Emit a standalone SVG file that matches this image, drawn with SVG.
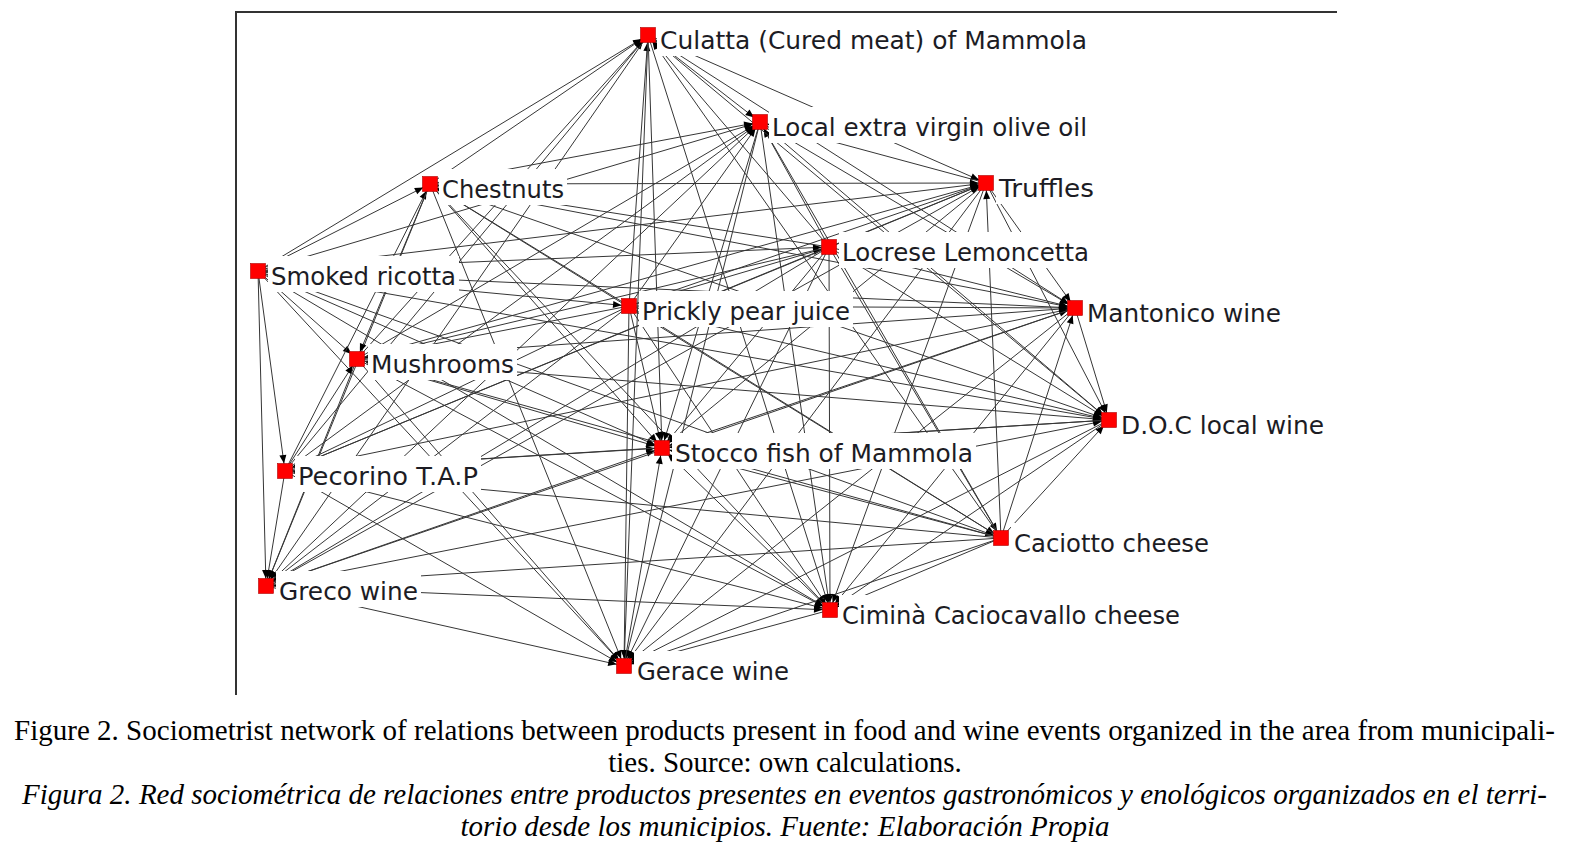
<svg xmlns="http://www.w3.org/2000/svg" width="1575" height="861" viewBox="0 0 1575 861">
<style>
.edges line{stroke:#363636;stroke-width:1;marker-end:url(#ar)}
.box{fill:#fff}
.sq{fill:#ff0000;stroke:#b00000;stroke-width:0.6}
.lbl{font-family:"DejaVu Sans","Liberation Sans",sans-serif;font-size:25px;fill:#1c1c24}
.cap{font-family:"Liberation Serif","Times New Roman",serif;font-size:29px;fill:#000}
.mid{text-anchor:middle}
.it{font-style:italic}
.frame{stroke:#333;stroke-width:2;fill:none}
</style>
<defs>
<marker id="ar" markerUnits="userSpaceOnUse" markerWidth="20" markerHeight="8" refX="16" refY="3.5" orient="auto" overflow="visible">
<path d="M0,0 L8.5,3.5 L0,7 z" fill="#000"/>
</marker>
</defs>
<rect width="1575" height="861" fill="#fff"/>
<path class="frame" d="M236,695 L236,12 L1337,12"/>
<g id="edges" class="edges">
<line x1="258" y1="271" x2="662" y2="448"/>
<line x1="258" y1="271" x2="624" y2="666"/>
<line x1="258" y1="271" x2="830" y2="610"/>
<line x1="258" y1="271" x2="1109" y2="420"/>
<line x1="258" y1="271" x2="1075" y2="308"/>
<line x1="258" y1="271" x2="760" y2="122"/>
<line x1="258" y1="271" x2="986" y2="183"/>
<line x1="258" y1="271" x2="266" y2="586"/>
<line x1="258" y1="271" x2="648" y2="35"/>
<line x1="258" y1="271" x2="357" y2="359"/>
<line x1="258" y1="271" x2="430" y2="184"/>
<line x1="258" y1="271" x2="285" y2="471"/>
<line x1="258" y1="271" x2="1001" y2="538"/>
<line x1="258" y1="271" x2="829" y2="247"/>
<line x1="258" y1="271" x2="629" y2="306"/>
<line x1="629" y1="306" x2="662" y2="448"/>
<line x1="629" y1="306" x2="624" y2="666"/>
<line x1="629" y1="306" x2="830" y2="610"/>
<line x1="629" y1="306" x2="1109" y2="420"/>
<line x1="629" y1="306" x2="1075" y2="308"/>
<line x1="629" y1="306" x2="760" y2="122"/>
<line x1="629" y1="306" x2="986" y2="183"/>
<line x1="629" y1="306" x2="266" y2="586"/>
<line x1="629" y1="306" x2="648" y2="35"/>
<line x1="629" y1="306" x2="357" y2="359"/>
<line x1="629" y1="306" x2="430" y2="184"/>
<line x1="629" y1="306" x2="285" y2="471"/>
<line x1="629" y1="306" x2="1001" y2="538"/>
<line x1="629" y1="306" x2="829" y2="247"/>
<line x1="829" y1="247" x2="662" y2="448"/>
<line x1="829" y1="247" x2="624" y2="666"/>
<line x1="829" y1="247" x2="830" y2="610"/>
<line x1="829" y1="247" x2="1109" y2="420"/>
<line x1="829" y1="247" x2="1075" y2="308"/>
<line x1="829" y1="247" x2="760" y2="122"/>
<line x1="829" y1="247" x2="986" y2="183"/>
<line x1="829" y1="247" x2="266" y2="586"/>
<line x1="829" y1="247" x2="648" y2="35"/>
<line x1="829" y1="247" x2="357" y2="359"/>
<line x1="829" y1="247" x2="430" y2="184"/>
<line x1="829" y1="247" x2="285" y2="471"/>
<line x1="829" y1="247" x2="1001" y2="538"/>
<line x1="1001" y1="538" x2="662" y2="448"/>
<line x1="1001" y1="538" x2="624" y2="666"/>
<line x1="1001" y1="538" x2="830" y2="610"/>
<line x1="1001" y1="538" x2="1109" y2="420"/>
<line x1="1001" y1="538" x2="1075" y2="308"/>
<line x1="1001" y1="538" x2="760" y2="122"/>
<line x1="1001" y1="538" x2="986" y2="183"/>
<line x1="1001" y1="538" x2="266" y2="586"/>
<line x1="1001" y1="538" x2="648" y2="35"/>
<line x1="1001" y1="538" x2="357" y2="359"/>
<line x1="1001" y1="538" x2="430" y2="184"/>
<line x1="1001" y1="538" x2="285" y2="471"/>
<line x1="285" y1="471" x2="662" y2="448"/>
<line x1="285" y1="471" x2="624" y2="666"/>
<line x1="285" y1="471" x2="830" y2="610"/>
<line x1="285" y1="471" x2="1109" y2="420"/>
<line x1="285" y1="471" x2="1075" y2="308"/>
<line x1="285" y1="471" x2="760" y2="122"/>
<line x1="285" y1="471" x2="986" y2="183"/>
<line x1="285" y1="471" x2="266" y2="586"/>
<line x1="285" y1="471" x2="648" y2="35"/>
<line x1="285" y1="471" x2="357" y2="359"/>
<line x1="285" y1="471" x2="430" y2="184"/>
<line x1="430" y1="184" x2="662" y2="448"/>
<line x1="430" y1="184" x2="624" y2="666"/>
<line x1="430" y1="184" x2="830" y2="610"/>
<line x1="430" y1="184" x2="1109" y2="420"/>
<line x1="430" y1="184" x2="1075" y2="308"/>
<line x1="430" y1="184" x2="760" y2="122"/>
<line x1="430" y1="184" x2="986" y2="183"/>
<line x1="430" y1="184" x2="266" y2="586"/>
<line x1="430" y1="184" x2="648" y2="35"/>
<line x1="430" y1="184" x2="357" y2="359"/>
<line x1="357" y1="359" x2="662" y2="448"/>
<line x1="357" y1="359" x2="624" y2="666"/>
<line x1="357" y1="359" x2="830" y2="610"/>
<line x1="357" y1="359" x2="1109" y2="420"/>
<line x1="357" y1="359" x2="1075" y2="308"/>
<line x1="357" y1="359" x2="760" y2="122"/>
<line x1="357" y1="359" x2="986" y2="183"/>
<line x1="357" y1="359" x2="266" y2="586"/>
<line x1="357" y1="359" x2="648" y2="35"/>
<line x1="648" y1="35" x2="662" y2="448"/>
<line x1="648" y1="35" x2="624" y2="666"/>
<line x1="648" y1="35" x2="830" y2="610"/>
<line x1="648" y1="35" x2="1109" y2="420"/>
<line x1="648" y1="35" x2="1075" y2="308"/>
<line x1="648" y1="35" x2="760" y2="122"/>
<line x1="648" y1="35" x2="986" y2="183"/>
<line x1="648" y1="35" x2="266" y2="586"/>
<line x1="266" y1="586" x2="662" y2="448"/>
<line x1="266" y1="586" x2="624" y2="666"/>
<line x1="266" y1="586" x2="830" y2="610"/>
<line x1="266" y1="586" x2="1109" y2="420"/>
<line x1="266" y1="586" x2="1075" y2="308"/>
<line x1="266" y1="586" x2="760" y2="122"/>
<line x1="266" y1="586" x2="986" y2="183"/>
<line x1="986" y1="183" x2="662" y2="448"/>
<line x1="986" y1="183" x2="624" y2="666"/>
<line x1="986" y1="183" x2="830" y2="610"/>
<line x1="986" y1="183" x2="1109" y2="420"/>
<line x1="986" y1="183" x2="1075" y2="308"/>
<line x1="986" y1="183" x2="760" y2="122"/>
<line x1="760" y1="122" x2="662" y2="448"/>
<line x1="760" y1="122" x2="624" y2="666"/>
<line x1="760" y1="122" x2="830" y2="610"/>
<line x1="760" y1="122" x2="1109" y2="420"/>
<line x1="760" y1="122" x2="1075" y2="308"/>
<line x1="1075" y1="308" x2="662" y2="448"/>
<line x1="1075" y1="308" x2="624" y2="666"/>
<line x1="1075" y1="308" x2="830" y2="610"/>
<line x1="1075" y1="308" x2="1109" y2="420"/>
<line x1="1109" y1="420" x2="662" y2="448"/>
<line x1="1109" y1="420" x2="624" y2="666"/>
<line x1="1109" y1="420" x2="830" y2="610"/>
<line x1="830" y1="610" x2="662" y2="448"/>
<line x1="830" y1="610" x2="624" y2="666"/>
<line x1="624" y1="666" x2="662" y2="448"/>
</g>
<g id="n-culatta"><rect class="box" x="657" y="20" width="434" height="36"/><rect class="sq" x="640.5" y="27.5" width="15" height="15"/><text class="lbl" x="660" y="49" textLength="427" lengthAdjust="spacingAndGlyphs">Culatta (Cured meat) of Mammola</text></g>
<g id="n-olive"><rect class="box" x="769" y="107" width="321" height="36"/><rect class="sq" x="752.5" y="114.5" width="15" height="15"/><text class="lbl" x="772" y="136" textLength="315" lengthAdjust="spacingAndGlyphs">Local extra virgin olive oil</text></g>
<g id="n-chestnuts"><rect class="box" x="439" y="169" width="128" height="36"/><rect class="sq" x="422.5" y="176.5" width="15" height="15"/><text class="lbl" x="442" y="198" textLength="122" lengthAdjust="spacingAndGlyphs">Chestnuts</text></g>
<g id="n-truffles"><rect class="box" x="996" y="168" width="101" height="36"/><rect class="sq" x="978.5" y="175.5" width="15" height="15"/><text class="lbl" x="999" y="197" textLength="95" lengthAdjust="spacingAndGlyphs">Truffles</text></g>
<g id="n-locrese"><rect class="box" x="839" y="232" width="253" height="36"/><rect class="sq" x="821.5" y="239.5" width="15" height="15"/><text class="lbl" x="842" y="261" textLength="247" lengthAdjust="spacingAndGlyphs">Locrese Lemoncetta</text></g>
<g id="n-ricotta"><rect class="box" x="268" y="256" width="191" height="36"/><rect class="sq" x="250.5" y="263.5" width="15" height="15"/><text class="lbl" x="271" y="285" textLength="185" lengthAdjust="spacingAndGlyphs">Smoked ricotta</text></g>
<g id="n-prickly"><rect class="box" x="639" y="291" width="214" height="36"/><rect class="sq" x="621.5" y="298.5" width="15" height="15"/><text class="lbl" x="642" y="320" textLength="208" lengthAdjust="spacingAndGlyphs">Prickly pear juice</text></g>
<g id="n-mantonico"><rect class="box" x="1084" y="293" width="200" height="36"/><rect class="sq" x="1067.5" y="300.5" width="15" height="15"/><text class="lbl" x="1087" y="322" textLength="194" lengthAdjust="spacingAndGlyphs">Mantonico wine</text></g>
<g id="n-mushrooms"><rect class="box" x="368" y="344" width="149" height="36"/><rect class="sq" x="349.5" y="351.5" width="15" height="15"/><text class="lbl" x="371" y="373" textLength="143" lengthAdjust="spacingAndGlyphs">Mushrooms</text></g>
<g id="n-doc"><rect class="box" x="1118" y="405" width="209" height="36"/><rect class="sq" x="1101.5" y="412.5" width="15" height="15"/><text class="lbl" x="1121" y="434" textLength="203" lengthAdjust="spacingAndGlyphs">D.O.C local wine</text></g>
<g id="n-stocco"><rect class="box" x="672" y="433" width="304" height="36"/><rect class="sq" x="654.5" y="440.5" width="15" height="15"/><text class="lbl" x="675" y="462" textLength="298" lengthAdjust="spacingAndGlyphs">Stocco fish of Mammola</text></g>
<g id="n-pecorino"><rect class="box" x="295" y="456" width="186" height="36"/><rect class="sq" x="277.5" y="463.5" width="15" height="15"/><text class="lbl" x="298" y="485" textLength="180" lengthAdjust="spacingAndGlyphs">Pecorino T.A.P</text></g>
<g id="n-caciotto"><rect class="box" x="1011" y="523" width="201" height="36"/><rect class="sq" x="993.5" y="530.5" width="15" height="15"/><text class="lbl" x="1014" y="552" textLength="195" lengthAdjust="spacingAndGlyphs">Caciotto cheese</text></g>
<g id="n-greco"><rect class="box" x="276" y="571" width="145" height="36"/><rect class="sq" x="258.5" y="578.5" width="15" height="15"/><text class="lbl" x="279" y="600" textLength="139" lengthAdjust="spacingAndGlyphs">Greco wine</text></g>
<g id="n-cimina"><rect class="box" x="839" y="595" width="344" height="36"/><rect class="sq" x="822.5" y="602.5" width="15" height="15"/><text class="lbl" x="842" y="624" textLength="338" lengthAdjust="spacingAndGlyphs">Ciminà Caciocavallo cheese</text></g>
<g id="n-gerace"><rect class="box" x="634" y="651" width="158" height="36"/><rect class="sq" x="616.5" y="658.5" width="15" height="15"/><text class="lbl" x="637" y="680" textLength="152" lengthAdjust="spacingAndGlyphs">Gerace wine</text></g>
<g id="caption">
<text class="cap" x="14" y="740" textLength="1541">Figure 2. Sociometrist network of relations between products present in food and wine events organized in the area from municipali-</text>
<text class="cap mid" x="785" y="772">ties. Source: own calculations.</text>
<text class="cap it" x="22" y="804" textLength="1525">Figura 2. Red sociométrica de relaciones entre productos presentes en eventos gastronómicos y enológicos organizados en el terri-</text>
<text class="cap it mid" x="785" y="836">torio desde los municipios. Fuente: Elaboración Propia</text>
</g>
</svg>
